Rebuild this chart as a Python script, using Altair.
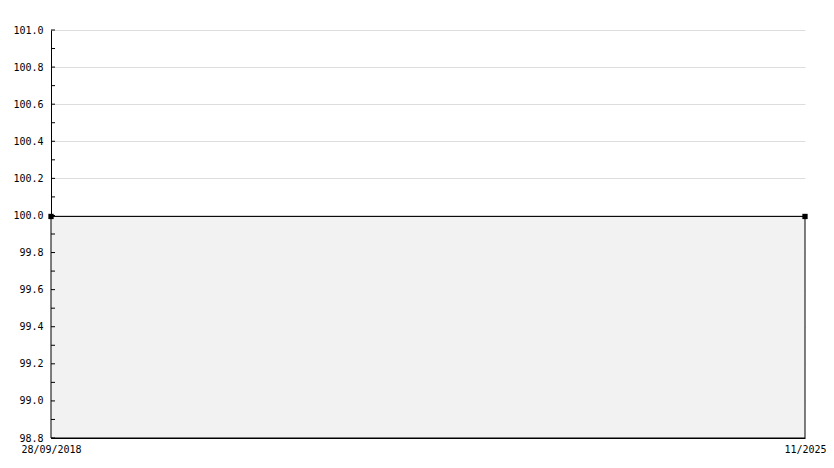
import altair as alt
import pandas as pd

dates = ["2018-09-28", "2025-11-15"]
values = [100.0, 100.0]
y_min, y_max = 98.8, 101.0
major_ticks = [98.8, 99.0, 99.2, 99.4, 99.6, 99.8, 100.0, 100.2, 100.4, 100.6, 100.8, 101.0]
all_ticks = [round(98.8 + 0.1 * i, 1) for i in range(23)]

df = pd.DataFrame({"date": pd.to_datetime(dates), "value": values})
ticks_df = pd.DataFrame({"value": all_ticks})

FONT = "DejaVu Sans Mono"

x_axis = alt.Axis(
    values=[pd.Timestamp(d).isoformat() for d in dates],
    labelExpr="datum.index == 0 ? timeFormat(datum.value, '%d/%m/%Y') : timeFormat(datum.value, '%m/%Y')",
    ticks=False, grid=False, labelFlush=False, labelOverlap=False, labelPadding=6,
    domainColor="black", labelFont=FONT, labelFontSize=10, labelColor="black",
    title=None,
)
x_scale = alt.Scale(domain=[dates[0], dates[-1]])
x_enc = alt.X("date:T", scale=x_scale, axis=x_axis)

y_scale = alt.Scale(domain=[y_min, y_max], nice=False, zero=False)
y_axis = alt.Axis(
    values=major_ticks, format=".1f", ticks=False, grid=True, gridColor="#dddddd",
    labelOverlap=False, labelFlush=False,
    domainColor="black", labelFont=FONT, labelFontSize=10, labelColor="black",
    labelPadding=8, title=None,
)
y_enc = alt.Y("value:Q", scale=y_scale, axis=y_axis)

area = alt.Chart(df).mark_area(
    fill="#f2f2f2", stroke="black", strokeWidth=1, yOffset=1
).encode(x=x_enc, y=y_enc, y2=alt.datum(y_min))

points = alt.Chart(df).mark_point(
    shape="square", filled=True, color="black", size=28, opacity=1, yOffset=1
).encode(x=x_enc, y=y_enc)

tick_marks = alt.Chart(ticks_df).mark_rule(color="black", strokeWidth=1).encode(
    x=alt.value(0), x2=alt.value(4), y=y_enc
)

chart = alt.layer(area, tick_marks, points).properties(
    width=754, height=408,
    background="white",
    autosize=alt.AutoSizeParams(type="none"),
    padding={"left": 43, "top": 22, "right": 21, "bottom": 22},
).configure_view(stroke=None)

chart.save("out.html", embed_options={"renderer": "svg", "actions": False})
